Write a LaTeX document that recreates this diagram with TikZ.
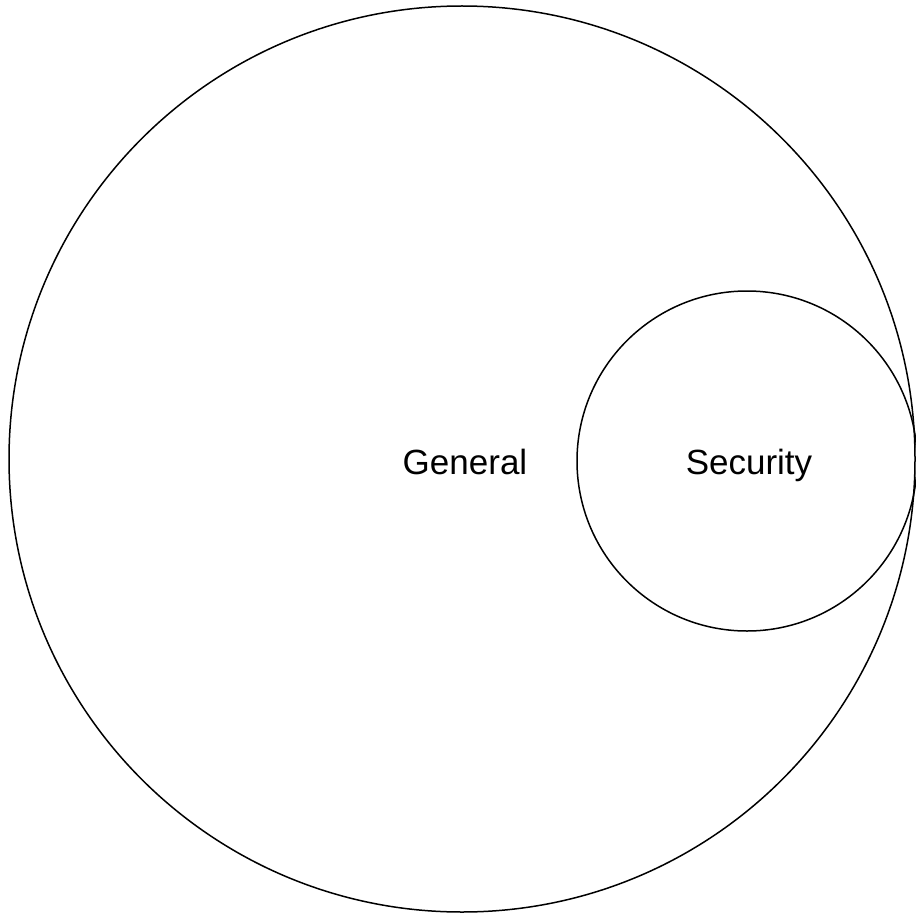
\documentclass[tikz,border=0pt]{standalone}
\usepackage{fontspec}
\setmainfont{Liberation Sans}
\begin{document}
\begin{tikzpicture}[x=1pt,y=-1pt,
  ring/.style={draw=black,line width=1.5pt,circle,inner sep=0pt},
  lbl/.style={font=\fontsize{35}{42}\selectfont,anchor=base,inner sep=0pt}]
\useasboundingbox (0,0) rectangle (915,917);
\node[ring,minimum size=906pt] (general) at (462,459) {};
\node[ring,minimum size=340pt] (security) at (747,461) {};
\node[lbl] (gtext) at (465,474) {General};
\node[lbl] (stext) at (749,474) {Security};
\end{tikzpicture}
\end{document}
